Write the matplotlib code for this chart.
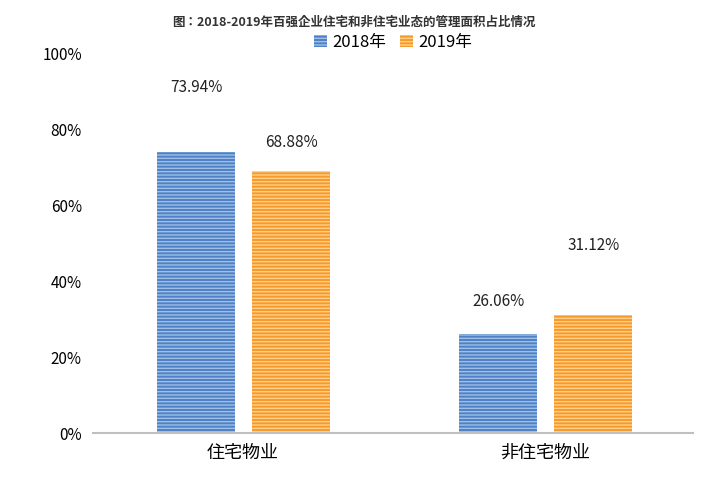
import matplotlib.pyplot as plt
import matplotlib as mpl
from matplotlib import font_manager
import numpy as np

cjk = sorted({f.name for f in font_manager.fontManager.ttflist if 'CJK' in f.name})
mpl.rcParams['font.family'] = cjk + ['DejaVu Sans']
mpl.rcParams['hatch.linewidth'] = 1.0

categories = ['住宅物业', '非住宅物业']
series = ['2018年', '2019年']
values_2018 = [73.94, 26.06]
values_2019 = [68.88, 31.12]
label_offsets_2018 = [56, 24]   # label lift in pixels
label_offsets_2019 = [20, 61]

fig = plt.figure(figsize=(7.07, 4.87), dpi=100)
ax = fig.add_axes([93/707, 1-433/487, 600/707, 380/487])

x = np.arange(len(categories))
w = 0.258
specs = [(values_2018, '#4f81c7', '#9fbfe6', -0.155, label_offsets_2018),
         (values_2019, '#f79a2c', '#ffd08a', 0.16, label_offsets_2019)]
for (vals, col, hcol, dx, offs), name in zip(specs, series):
    ax.bar(x + dx, vals, w, color=col, edgecolor=hcol, hatch='-----',
           linewidth=0, label=name)
    for xi, v, o in zip(x + dx, vals, offs):
        ax.annotate(f'{v:.2f}%', (xi, v), xytext=(0, o), textcoords='offset pixels',
                    ha='center', va='bottom', fontsize=11, color='#222222')

ax.set_xlim(-0.497, 1.49)
ax.set_ylim(0, 100)
ax.set_yticks(range(0, 101, 20))
ax.set_yticklabels([f'{t}%' for t in range(0, 101, 20)], fontsize=11)
ax.set_xticks(x)
ax.set_xticklabels(categories, fontsize=13)
ax.tick_params(length=0, pad=8)
for s in ['top', 'right', 'left']:
    ax.spines[s].set_visible(False)
ax.spines['bottom'].set_color('#bfbfbf')
ax.spines['bottom'].set_linewidth(1.5)

fig.text(0.5, 1-22/487, '图：2018-2019年百强企业住宅和非住宅业态的管理面积占比情况',
         ha='center', va='center', fontsize=9, fontweight='bold', color='#333333')
ax.legend(loc='upper center', bbox_to_anchor=(0.5, 1.09), ncol=2, frameon=False,
          fontsize=12, handlelength=0.8, handleheight=0.8, columnspacing=0.8,
          handletextpad=0.3)

plt.savefig('out.png', dpi=100)
